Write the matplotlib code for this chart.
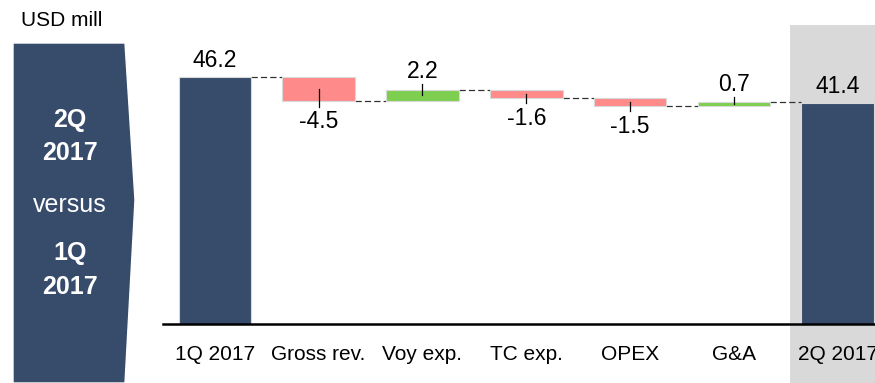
import matplotlib
matplotlib.use("Agg")
import matplotlib.pyplot as plt
from matplotlib.patches import Polygon

plt.rcParams['font.family'] = ['Liberation Sans', 'DejaVu Sans']

categories = ['1Q 2017', 'Gross rev.', 'Voy exp.', 'TC exp.', 'OPEX', 'G&A', '2Q 2017']
start_value = 46.2
deltas = [-4.5, 2.2, -1.6, -1.5, 0.7]
end_value = 41.4

navy = '#374c6b'
red = '#ff8a8a'
green = '#7ecf4f'
edge = '#d9d9d9'

fig = plt.figure(figsize=(8.75, 3.83), dpi=100, facecolor='white')
ax = fig.add_axes([163 / 875, 59 / 383, 712 / 875, 299 / 383])

# grey band behind the final bar, runs down past the axis
ax.axvspan(5.54, 6.5, ymin=-0.3, ymax=1.0, color='#d9d9d9', lw=0, zorder=0, clip_on=False)

w = 0.7
lab_fs = 16.5
# totals
ax.bar(0, start_value, width=w, color=navy, edgecolor=edge, lw=0.8, zorder=2)
ax.bar(6, end_value, width=w, color=navy, edgecolor=edge, lw=0.8, zorder=2)
ax.text(0, start_value + 1.0, f'{start_value:.1f}', ha='center', va='bottom', fontsize=lab_fs)
ax.text(6, end_value + 1.0, f'{end_value:.1f}', ha='center', va='bottom', fontsize=lab_fs)

level = start_value
levels = [level]
for i, d in enumerate(deltas, start=1):
    bottom = level if d > 0 else level + d
    col = green if d > 0 else red
    ax.bar(i, abs(d), bottom=bottom, width=w, color=col, edgecolor=edge, lw=0.8, zorder=2)
    mid = bottom + abs(d) / 2
    if d > 0:
        tip = bottom + abs(d) + 1.0
        ax.plot([i, i], [mid, tip], color='black', lw=0.9, zorder=3)
        ax.text(i, tip + 0.2, f'{d:.1f}', ha='center', va='bottom', fontsize=lab_fs)
    else:
        tip = bottom - 1.0
        ax.plot([i, i], [mid, tip], color='black', lw=0.9, zorder=3)
        ax.text(i, tip - 0.6, f'{d:.1f}', ha='center', va='top', fontsize=lab_fs)
    level = level + d
    levels.append(level)

# dashed connectors between bars
for i, lv in enumerate(levels):
    ax.plot([i + w / 2, i + 1 - w / 2], [lv, lv], color='#333333', lw=0.9,
            ls=(0, (5, 2.5)), zorder=1)

ax.set_xlim(-0.5, 6.36)
ax.set_ylim(0, 56)
ax.set_xticks(range(len(categories)))
ax.set_xticklabels(categories, fontsize=15)
ax.tick_params(axis='x', length=0, pad=15)
ax.set_yticks([])
for s in ['top', 'right', 'left']:
    ax.spines[s].set_visible(False)
ax.spines['bottom'].set_linewidth(1.8)
ax.spines['bottom'].set_color('black')
ax.patch.set_alpha(0)

# left chevron panel
H = 383
pts = [(13, H - 43), (125, H - 43), (135, H - 200), (125, H - 383), (13, H - 383)]
pts = [(x / 875, y / H) for x, y in pts]
fig.patches.append(Polygon(pts, closed=True, transform=fig.transFigure,
                           facecolor=navy, edgecolor='white', lw=1))

fig.text(21 / 875, 1 - 20 / H, 'USD mill', fontsize=15, va='center', ha='left')
panel = [('2Q', 120, 'bold'), ('2017', 153, 'bold'), ('versus', 205, 'normal'),
         ('1Q', 253, 'bold'), ('2017', 287, 'bold')]
for txt, y, wt in panel:
    fig.text(70 / 875, 1 - y / H, txt, color='white', fontsize=18, fontweight=wt,
             ha='center', va='center')

fig.savefig('out.png', dpi=100)
